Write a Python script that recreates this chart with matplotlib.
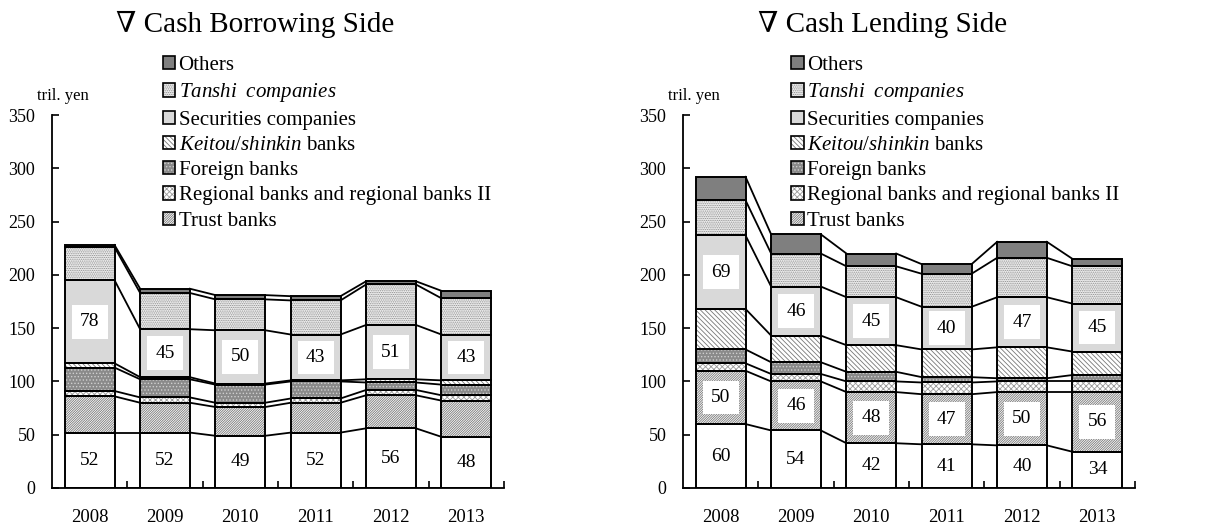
import numpy as np
import matplotlib
matplotlib.use("Agg")
from matplotlib import pyplot as plt
from matplotlib.patches import Patch

plt.rcParams['font.family'] = ['Liberation Serif', 'DejaVu Serif']
plt.rcParams['mathtext.fontset'] = 'custom'
plt.rcParams['mathtext.rm'] = 'Liberation Serif'
plt.rcParams['mathtext.it'] = 'Liberation Serif:italic'
plt.rcParams['hatch.linewidth'] = 0.6

years = ['2008', '2009', '2010', '2011', '2012', '2013']

# cash borrowing side (tril. yen), bottom to top
city_b = [52, 52, 49, 52, 56, 48]
trust_b = [34, 28, 27, 28, 31, 34]
regional_b = [5, 5, 4, 4, 5, 5]
foreign_b = [22, 17, 17, 16, 7, 10]
keitou_b = [4, 2, 1, 1, 3, 4]
securities_b = [78, 45, 50, 43, 51, 43]
tanshi_b = [31, 34, 29, 32, 38, 34]
others_b = [2, 4, 4, 4, 3, 7]

# cash lending side (tril. yen)
city_l = [60, 54, 42, 41, 40, 34]
trust_l = [50, 46, 48, 47, 50, 56]
regional_l = [7, 7, 10, 11, 10, 10]
foreign_l = [13, 11, 9, 5, 3, 6]
keitou_l = [38, 25, 25, 26, 29, 22]
securities_l = [69, 46, 45, 40, 47, 45]
tanshi_l = [33, 31, 29, 31, 37, 35]
others_l = [22, 18, 12, 9, 15, 7]

legend_labels = ['Others', r'$\mathit{Tanshi\ \ companies}$', 'Securities companies',
                 r'$\mathit{Keitou/shinkin}$ banks', 'Foreign banks',
                 'Regional banks and regional banks II', 'Trust banks']

# (facecolor, hatch, hatchcolor) bottom to top
styles = [
    ('white', None, 'white'),
    ('white', '/' * 14, '#777777'),
    ('white', 'x' * 6, '#9a9a9a'),
    ('#8a8a8a', '.' * 5, '#cfcfcf'),
    ('white', '\\' * 7, '#777777'),
    ('#d9d9d9', None, '#d9d9d9'),
    ('#efefef', '.' * 9, '#8a8a8a'),
    ('#7f7f7f', None, '#7f7f7f'),
]

W = 0.66


def draw_panel(ax, series, labelled):
    x = np.arange(len(years))
    bottom = np.zeros(len(years))
    tops = [bottom.copy()]
    for k, vals in enumerate(series):
        vals = np.array(vals, dtype=float)
        fc, h, hc = styles[k]
        ax.bar(x, vals, W, bottom=bottom, color=fc, hatch=h, edgecolor=hc, linewidth=0, zorder=2)
        ax.bar(x, vals, W, bottom=bottom, fill=False, edgecolor='black', linewidth=1.4, zorder=3)
        if k in labelled:
            for i in range(len(x)):
                ax.text(x[i], bottom[i] + vals[i] / 2, str(int(vals[i])), ha='center', va='center',
                        fontsize=14, zorder=4,
                        bbox=dict(facecolor='white', edgecolor='none', pad=6))
        bottom = bottom + vals
        tops.append(bottom.copy())
    for t in tops:
        for i in range(len(x) - 1):
            ax.plot([x[i] + W / 2, x[i + 1] - W / 2], [t[i], t[i + 1]], color='black', lw=1.3, zorder=1)

    ax.set_xlim(-0.5, len(years) - 0.5)
    ax.set_ylim(0, 350)
    ax.set_yticks(range(0, 351, 50))
    ax.set_xticks(x)
    ax.set_xticklabels(years)
    ax.set_xticks(np.arange(len(years)) + 0.5, minor=True)
    ax.tick_params(axis='x', which='major', length=0, pad=15, labelsize=13.5)
    ax.tick_params(axis='x', which='minor', direction='in', length=5, width=1.2)
    ax.tick_params(axis='y', direction='in', length=5, width=1.2, pad=12, labelsize=13)
    for s in ['top', 'right']:
        ax.spines[s].set_visible(False)
    for s in ['left', 'bottom']:
        ax.spines[s].set_linewidth(1.3)
    ax.text(-0.033, 1.03, 'tril. yen', transform=ax.transAxes, fontsize=12, ha='left', va='bottom')

    handles = []
    for k in range(7, 0, -1):
        fc, h, hc = styles[k]
        handles.append((Patch(facecolor=fc, hatch=h, edgecolor=hc, linewidth=0),
                        Patch(fill=False, edgecolor='black', linewidth=1.2)))
    return handles


fig = plt.figure(figsize=(12.31, 5.26), dpi=100)
ax1 = fig.add_axes([52 / 1231, 38 / 526, 452 / 1231, 373 / 526])
ax2 = fig.add_axes([683 / 1231, 38 / 526, 452 / 1231, 373 / 526])

series_b = [city_b, trust_b, regional_b, foreign_b, keitou_b, securities_b, tanshi_b, others_b]
series_l = [city_l, trust_l, regional_l, foreign_l, keitou_l, securities_l, tanshi_l, others_l]

h1 = draw_panel(ax1, series_b, [0, 5])
h2 = draw_panel(ax2, series_l, [0, 1, 5])

for h, xl in [(h1, 163), (h2, 791)]:
    fig.legend(h, legend_labels, loc='upper left', bbox_to_anchor=(xl / 1231, 1 - 56 / 526),
               frameon=False, fontsize=15, handlelength=0.6, handleheight=0.6,
               handletextpad=0.15, labelspacing=0.3, borderpad=0, borderaxespad=0)

fig.text(255 / 1231, 1 - 24 / 526, '∇ Cash Borrowing Side', ha='center', va='center', fontsize=21)
fig.text(883 / 1231, 1 - 24 / 526, '∇ Cash Lending Side', ha='center', va='center', fontsize=21)

fig.savefig('out.png', dpi=100)
